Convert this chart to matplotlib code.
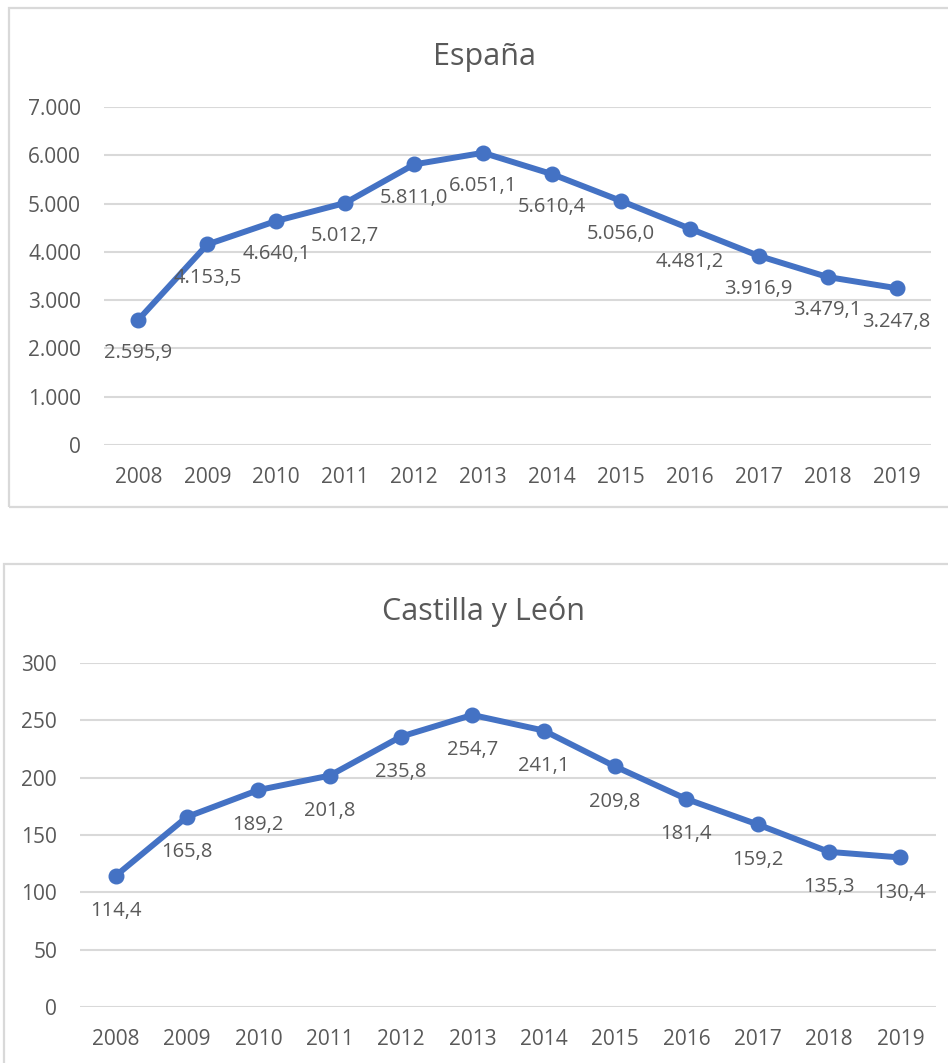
import matplotlib
matplotlib.use("Agg")
import matplotlib.pyplot as plt
from matplotlib.patches import Rectangle
from matplotlib.ticker import FuncFormatter, MultipleLocator

years = ["2008", "2009", "2010", "2011", "2012", "2013",
         "2014", "2015", "2016", "2017", "2018", "2019"]
espana = [2595.9, 4153.5, 4640.1, 5012.7, 5811.0, 6051.1,
          5610.4, 5056.0, 4481.2, 3916.9, 3479.1, 3247.8]
cyl = [114.4, 165.8, 189.2, 201.8, 235.8, 254.7,
       241.1, 209.8, 181.4, 159.2, 135.3, 130.4]
title_top = "España"
title_bottom = "Castilla y León"

plt.rcParams['font.family'] = ['Open Sans', 'DejaVu Sans']
TXT = "#595959"
LINE = "#4472C4"
GRID = "#D9D9D9"

W, H = 948, 1063
fig = plt.figure(figsize=(W / 100, H / 100), dpi=100)


def es_num(v, dec):
    s = f"{v:,.{dec}f}"
    return s.replace(",", "X").replace(".", ",").replace("X", ".")


def px_rect(l, t, r, b):
    return [l / W, 1 - b / H, (r - l) / W, (b - t) / H]


# chart boxes
fig.add_artist(Rectangle((9 / W, 1 - 507 / H), (960 - 9) / W, (507 - 8) / H,
                         transform=fig.transFigure, fill=False,
                         edgecolor=GRID, linewidth=1.6))
fig.add_artist(Rectangle((4 / W, 1 - 1080 / H), (960 - 4) / W, (1080 - 564) / H,
                         transform=fig.transFigure, fill=False,
                         edgecolor=GRID, linewidth=1.6))


def draw(ax, vals, ymax, step, lab_off, title, title_base):
    x = list(range(len(years)))
    ax.plot(x, vals, color=LINE, linewidth=4.3, marker='o', markersize=10.5,
            solid_capstyle='round', solid_joinstyle='round', zorder=3)
    ax.set_xlim(-0.5, len(years) - 0.5)
    ax.set_ylim(0, ymax)
    ax.yaxis.set_major_locator(MultipleLocator(step))
    ax.yaxis.set_major_formatter(FuncFormatter(lambda v, p: es_num(v, 0)))
    ax.set_xticks(x)
    ax.set_xticklabels(years)
    ax.grid(axis='y', color=GRID, linewidth=1.5)
    ax.set_axisbelow(True)
    for s in ax.spines.values():
        s.set_visible(False)
    ax.tick_params(axis='both', length=0, colors=TXT, labelsize=15)
    ax.tick_params(axis='y', pad=16.5)
    ax.tick_params(axis='x', pad=16)
    for xi, v in zip(x, vals):
        ax.annotate(es_num(v, 1), (xi, v), xytext=(0, lab_off),
                    textcoords='offset points', ha='center', va='center',
                    fontsize=14.5, color=TXT, zorder=4)
    fig.text(484 / W, 1 - title_base / H, title, ha='center', va='baseline',
             fontsize=22, color=TXT)


ax1 = fig.add_axes(px_rect(104, 107, 931, 445))
draw(ax1, espana, 7000, 1000, -24, title_top, 65)

ax2 = fig.add_axes(px_rect(80, 663, 936, 1007))
draw(ax2, cyl, 300, 50, -25.5, title_bottom, 620)

fig.savefig("out.png", dpi=100)
